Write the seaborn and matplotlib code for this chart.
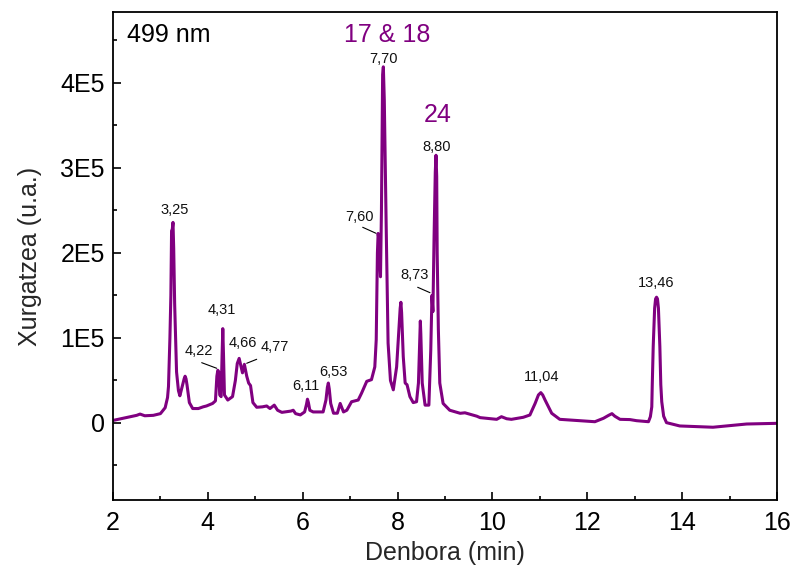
import matplotlib
matplotlib.use("Agg")
import matplotlib.pyplot as plt
import seaborn as sns
import pandas as pd
from matplotlib.ticker import MultipleLocator, FixedLocator, FixedFormatter

# Chromatogram trace (time in min, signal in counts x1e3)
time_min = [2.00, 2.29, 2.50, 2.57, 2.67, 2.85, 3.00, 3.10, 3.15, 3.17, 3.20, 3.22, 3.235, 3.25, 3.265,
            3.28, 3.30, 3.34, 3.38, 3.41, 3.47, 3.50, 3.52, 3.54, 3.56, 3.61, 3.68, 3.80, 3.90, 3.97, 4.10,
            4.16, 4.19, 4.21, 4.23, 4.25, 4.28, 4.30, 4.315, 4.33, 4.35, 4.42, 4.52, 4.58,
            4.62, 4.66, 4.70, 4.73, 4.77, 4.82, 4.86, 4.90, 4.95, 5.03, 5.15, 5.24, 5.31,
            5.40, 5.47, 5.56, 5.75, 5.80, 5.85, 5.95, 6.04, 6.08, 6.10, 6.12, 6.15, 6.22, 6.43, 6.49,
            6.52, 6.54, 6.56, 6.59, 6.65, 6.73, 6.79, 6.86, 6.93, 7.03, 7.17, 7.24, 7.35, 7.45, 7.52,
            7.55, 7.575, 7.59, 7.61, 7.64, 7.66, 7.685, 7.70, 7.72, 7.76, 7.80, 7.85, 7.91,
            7.98, 8.03, 8.055, 8.07, 8.085, 8.12, 8.16, 8.20, 8.26, 8.33, 8.40, 8.44, 8.47, 8.48, 8.49, 8.52, 8.58,
            8.66, 8.70, 8.725, 8.745, 8.77, 8.795, 8.81, 8.825, 8.835, 8.86, 8.89, 8.96, 9.10, 9.32, 9.42,
            9.67, 9.74, 10.09, 10.19, 10.30, 10.40, 10.65, 10.79, 10.90, 10.97, 11.02, 11.06, 11.11, 11.25,
            11.42, 11.85, 12.16, 12.34, 12.45, 12.52, 12.58, 12.69, 12.90, 13.04, 13.29, 13.33, 13.36, 13.37,
            13.39, 13.42, 13.44, 13.46, 13.48, 13.50, 13.53, 13.55, 13.57, 13.61, 13.67, 13.95, 14.65, 15.36, 16.00]
signal_k = [3, 6.5, 9, 10.5, 8.5, 9, 11, 18, 30, 43, 100, 150, 226, 228, 236,
            205, 140, 60, 38, 32, 45, 52, 55, 52, 45, 24, 17, 17, 19, 20, 23,
            26, 55, 62, 60, 33, 31, 80, 111, 80, 33, 27, 31, 50,
            70, 76, 66, 59, 69, 55, 47, 44, 24, 18.5, 19, 20, 17,
            21, 15, 12.5, 14, 15, 11, 9.5, 13, 22, 28, 24, 15, 13, 13, 27,
            42, 47, 40, 23, 11.5, 11.5, 23, 13, 15, 25, 27, 35, 49, 51, 66,
            98, 200, 223, 215, 172, 250, 410, 419, 380, 231, 94, 50, 39,
            66, 113, 135, 142, 130, 78, 47, 45, 31, 24, 25, 47, 105, 120, 105, 47, 21,
            21, 86, 150, 131, 220, 295, 315, 290, 200, 110, 47, 23, 15, 11.4, 12,
            8, 6.3, 4.3, 7.4, 5, 4.3, 6.7, 9.4, 23, 33, 35.7, 33, 27, 11.4,
            4.3, 2.7, 1.5, 5.5, 9, 11, 8, 4.3, 4.0, 2.7, 1.5, 7.4, 19, 45,
            90, 135, 146, 148, 146, 135, 90, 45, 25, 8, 0.4, -3.5, -5, -1.2, -0.4]

x_ticks = [2, 4, 6, 8, 10, 12, 14, 16]
y_ticks = [0, 1e5, 2e5, 3e5, 4e5]
y_ticklabels = ["0", "1E5", "2E5", "3E5", "4E5"]

peak_labels = ["3,25", "4,22", "4,31", "4,66", "4,77", "6,11", "6,53", "7,60",
               "7,70", "8,73", "8,80", "11,04", "13,46"]

df = pd.DataFrame({"t": time_min, "s": [v * 1e3 for v in signal_k]})

sns.set_style("white")
plt.rcParams["font.family"] = ["Liberation Sans", "DejaVu Sans"]

fig = plt.figure(figsize=(7.94, 5.71), dpi=100)
ax = fig.add_axes([113 / 794, 1 - 500 / 571, 664 / 794, 488 / 571])

purple = "#800080"
sns.lineplot(data=df, x="t", y="s", sort=False, color=purple, lw=2.2, ax=ax)

ax.set_xlim(2, 16)
ax.set_ylim(-0.906e5, 4.835e5)
ax.xaxis.set_major_locator(FixedLocator(x_ticks))
ax.xaxis.set_minor_locator(MultipleLocator(1))
ax.yaxis.set_major_locator(FixedLocator(y_ticks))
ax.yaxis.set_major_formatter(FixedFormatter(y_ticklabels))
ax.yaxis.set_minor_locator(MultipleLocator(0.5e5))
ax.tick_params(which="both", direction="in", bottom=True, left=True, top=False, right=False,
               width=1.2, labelsize=18, colors="black")
ax.tick_params(which="major", length=6)
ax.tick_params(axis="x", which="major", pad=8)
ax.tick_params(axis="y", which="major", pad=6)
ax.tick_params(which="minor", length=3)
for sp in ax.spines.values():
    sp.set_linewidth(1.3)
    sp.set_color("black")

ax.set_xlabel("Denbora (min)", fontsize=18, labelpad=4)
ax.set_ylabel("Xurgatzea (u.a.)", fontsize=18, labelpad=13)

def px2data(px, py):
    return 2 + (px - 113) / 47.43, (423 - py) / 85 * 1e5

# peak label positions (pixel centers in reference)
lab_pos = [(175, 210), (199, 351), (222, 310), (243, 343), (275, 347), (306, 386),
           (333, 372), (360, 217), (384, 59), (415, 275), (437, 147), (542, 377), (656, 283)]
for lab, (px, py) in zip(peak_labels, lab_pos):
    x, y = px2data(px, py)
    ax.text(x, y, lab, fontsize=10.5, ha="center", va="center", color="#111111")

leaders = [((201.7, 362.7), (216.7, 368.3)),
           ((246.7, 363.3), (256.7, 359.3)),
           ((362.7, 227.3), (376, 233.3)),
           ((417.7, 287.3), (430, 292.7))]
for p0, p1 in leaders:
    x0, y0 = px2data(*p0)
    x1, y1 = px2data(*p1)
    ax.plot([x0, x1], [y0, y1], color="black", lw=0.8)

x, y = px2data(387, 35)
ax.text(x, y, "17 & 18", fontsize=18, ha="center", va="center", color=purple)
x, y = px2data(438, 115)
ax.text(x, y, "24", fontsize=18, ha="center", va="center", color=purple)
x, y = px2data(127, 35)
ax.text(x, y, "499 nm", fontsize=18, ha="left", va="center", color="black")

fig.savefig("out.png", dpi=100)
